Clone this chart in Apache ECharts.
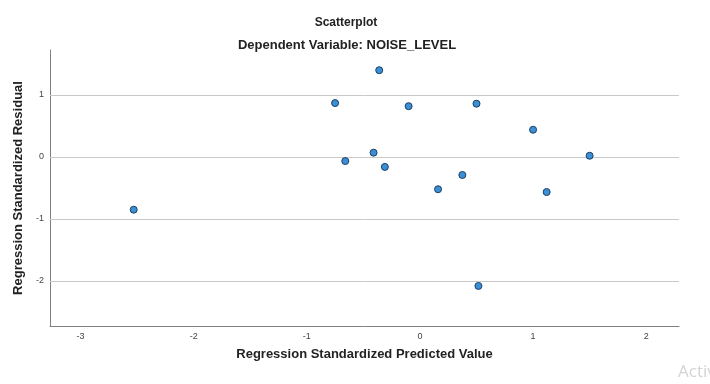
<!DOCTYPE html>
<html>
<head>
<meta charset="utf-8">
<script src="https://cdn.jsdelivr.net/npm/echarts@6/dist/echarts.min.js"></script>
<style>html,body{margin:0;padding:0;background:#fff}#c{width:710px;height:384px}</style>
</head>
<body>
<div id="c"></div>
<script>
var predicted = [-0.36, -0.75, -0.10, 0.50, 1.00, -2.53, -0.66, -0.41, -0.31, 0.16, 0.375, 1.12, 1.50, 0.517];
var residual  = [1.40, 0.87, 0.82, 0.86, 0.44, -0.85, -0.065, 0.07, -0.16, -0.52, -0.29, -0.565, 0.02, -2.08];
var xTicks = [-3, -2, -1, 0, 1, 2];
var yTicks = [1, 0, -1, -2];
var titleText = 'Scatterplot';
var subtitleText = 'Dependent Variable: NOISE_LEVEL';
var xName = 'Regression Standardized Predicted Value';
var yName = 'Regression Standardized Residual';

var points = predicted.map(function (x, i) { return [x, residual[i]]; });
var chart = echarts.init(document.getElementById('c'), null, {renderer: 'canvas'});
var font = 'Liberation Sans, Arial, sans-serif';
chart.setOption({
  animation: false,
  backgroundColor: '#fff',
  title: [
    {text: titleText, left: 341, top: 12, textAlign: 'center',
     textStyle: {fontFamily: font, fontSize: 12, fontWeight: 'bold', color: '#222'}},
    {text: subtitleText, left: 342, top: 34, textAlign: 'center',
     textStyle: {fontFamily: font, fontSize: 13, fontWeight: 'bold', color: '#222'}}
  ],
  grid: {left: 50, right: 31, top: 50, bottom: 58},
  xAxis: {
    type: 'value', min: -3.27, max: 2.29,
    name: xName, nameLocation: 'middle', nameGap: 22,
    nameTextStyle: {fontFamily: font, fontSize: 13, fontWeight: 'bold', color: '#222'},
    axisLine: {show: true, onZero: false, lineStyle: {color: '#808080', width: 1}},
    axisTick: {show: false},
    splitLine: {show: false},
    axisLabel: {customValues: xTicks, fontFamily: font, fontSize: 9, color: '#444', margin: 6}
  },
  yAxis: {
    type: 'value', min: -2.726, max: 1.726,
    name: yName, nameLocation: 'middle', nameGap: 23, nameRotate: 90,
    nameTextStyle: {fontFamily: font, fontSize: 13, fontWeight: 'bold', color: '#222'},
    axisLine: {show: true, onZero: false, lineStyle: {color: '#808080', width: 1}},
    axisTick: {show: false},
    splitLine: {show: false},
    axisLabel: {customValues: yTicks, fontFamily: font, fontSize: 9, color: '#444', margin: 6}
  },
  graphic: [
    {type: 'text', left: 678, top: 364, style: {text: 'Activ', fontFamily: 'Open Sans, sans-serif', fontSize: 17, fill: '#d4d4d4'}}
  ],
  series: [{
    type: 'scatter',
    data: points,
    symbol: 'circle',
    symbolSize: 7,
    itemStyle: {color: '#3b8fd4', borderColor: '#1c3f66', borderWidth: 1, opacity: 1},
    markLine: {
      silent: true, symbol: ['none', 'none'], label: {show: false},
      lineStyle: {color: '#c9c9c9', width: 1, type: 'solid'},
      data: yTicks.map(function (v) { return {yAxis: v}; })
    },
    z: 5
  }]
});
</script>
</body>
</html>
